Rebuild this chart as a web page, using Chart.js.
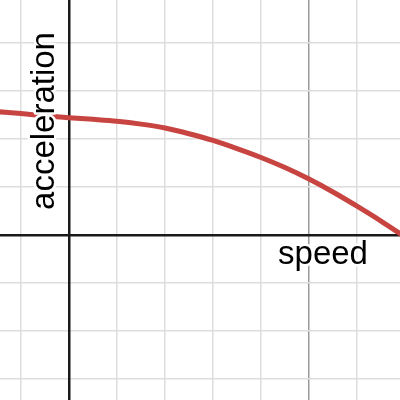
<!DOCTYPE html>
<html>
<head>
<meta charset="utf-8">
<script src="https://cdn.jsdelivr.net/npm/chart.js@4.4.1/dist/chart.umd.min.js"></script>
<style>
html,body{margin:0;padding:0;background:#fff;}
#wrap{width:400px;height:400px;position:relative;}
</style>
</head>
<body>
<div id="wrap"><canvas id="c"></canvas></div>
<script>
// Data
const speedValues = [-1.5, -1, -0.5, 0, 0.5, 1, 1.5, 2, 2.5, 3, 3.5, 4, 4.5, 5, 5.5, 6, 6.5, 7];
const accelValues = [2.57, 2.53, 2.485, 2.445, 2.41, 2.37, 2.31, 2.23, 2.11, 1.97, 1.80, 1.615, 1.405, 1.165, 0.895, 0.60, 0.29, -0.04];
const xTicks = [-1, 0, 1, 2, 3, 4, 5, 6];
const yTicks = [-3, -2, -1, 0, 1, 2, 3, 4];
const axisTicks = [0];
const xLabel = 'speed';
const yLabel = 'acceleration';

const xMin = -69 / 48, xMax = 331 / 48;
const yMin = -165 / 48, yMax = 235 / 48;

const points = speedValues.map((v, i) => ({x: v, y: accelValues[i]}));

function setTicks(list) {
  return function (axis) { axis.ticks = list.map(v => ({value: v})); };
}

const labelPlugin = {
  id: 'labels',
  afterDatasetsDraw(chart) {
    const ctx = chart.ctx;
    ctx.save();
    ctx.font = '33px "Liberation Sans", Arial, sans-serif';
    ctx.lineJoin = 'round';
    ctx.lineWidth = 5;
    ctx.strokeStyle = '#ffffff';
    ctx.fillStyle = '#000000';
    ctx.textAlign = 'center';
    ctx.textBaseline = 'alphabetic';
    ctx.strokeText(xLabel, 323, 264);
    ctx.fillText(xLabel, 323, 264);
    ctx.translate(54, 121);
    ctx.rotate(-Math.PI / 2);
    ctx.strokeText(yLabel, 0, 0);
    ctx.fillText(yLabel, 0, 0);
    ctx.restore();
  }
};

const hiddenTicks = {display: false};

new Chart(document.getElementById('c'), {
  type: 'scatter',
  data: {
    datasets: [{
      data: points,
      showLine: true,
      borderColor: '#c74440',
      borderWidth: 5,
      pointRadius: 0,
      pointHoverRadius: 0,
      cubicInterpolationMode: 'monotone',
      fill: false
    }]
  },
  options: {
    responsive: true,
    maintainAspectRatio: false,
    animation: false,
    events: [],
    layout: {padding: 0},
    plugins: {legend: {display: false}, tooltip: {enabled: false}},
    scales: {
      x: {
        type: 'linear', position: 'bottom', min: xMin, max: xMax,
        afterBuildTicks: setTicks(xTicks),
        ticks: hiddenTicks,
        border: {display: false},
        grid: {
          z: -2, drawTicks: false, lineWidth: 1.5,
          color: c => c.tick && c.tick.value === 5 ? '#9a9a9a' : (c.tick && c.tick.value === 0 ? 'rgba(0,0,0,0)' : '#dddddd')
        }
      },
      y: {
        type: 'linear', position: 'left', min: yMin, max: yMax,
        afterBuildTicks: setTicks(yTicks),
        ticks: hiddenTicks,
        border: {display: false},
        grid: {
          z: -2, drawTicks: false, lineWidth: 1.5,
          color: c => c.tick && c.tick.value === 0 ? 'rgba(0,0,0,0)' : '#dddddd'
        }
      },
      x0: {
        type: 'linear', axis: 'x', position: 'bottom', min: xMin, max: xMax,
        afterBuildTicks: setTicks(axisTicks),
        ticks: hiddenTicks,
        border: {display: false},
        grid: {z: -1, drawTicks: false, lineWidth: 2.5, color: '#1a1a1a'}
      },
      y0: {
        type: 'linear', axis: 'y', position: 'left', min: yMin, max: yMax,
        afterBuildTicks: setTicks(axisTicks),
        ticks: hiddenTicks,
        border: {display: false},
        grid: {z: -1, drawTicks: false, lineWidth: 2.5, color: '#1a1a1a'}
      }
    }
  },
  plugins: [labelPlugin]
});
</script>
</body>
</html>
